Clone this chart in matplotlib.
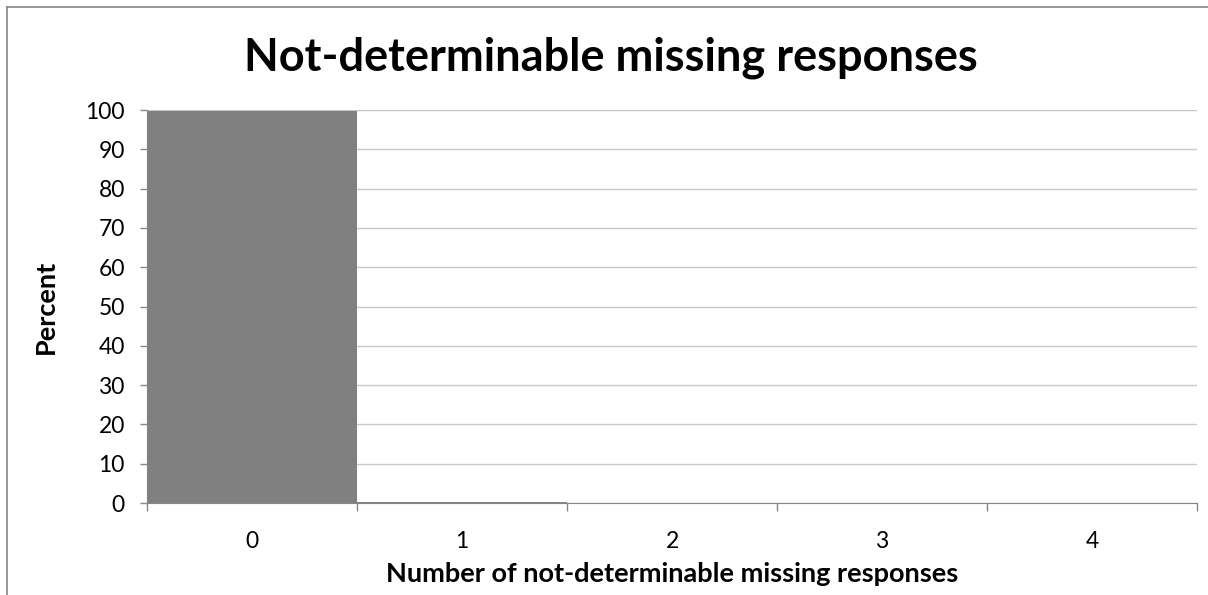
import matplotlib
matplotlib.use("Agg")
import matplotlib.pyplot as plt
from matplotlib.lines import Line2D

categories = ['0', '1', '2', '3', '4']
percent = [99.8, 0.2, 0.0, 0.0, 0.0]
y_ticks = [0, 10, 20, 30, 40, 50, 60, 70, 80, 90, 100]

plt.rcParams['font.family'] = ['Lato', 'DejaVu Sans']

fig = plt.figure(figsize=(12.08, 5.95), dpi=100)
ax = fig.add_axes([0.1217, 0.1546, 0.8692, 0.6605])

x = list(range(len(categories)))
ax.bar(x, percent, width=1.0, color='#808080', zorder=3)

ax.set_xlim(-0.5, len(categories) - 0.5)
ax.set_ylim(0, 100)
ax.set_yticks(y_ticks)
ax.set_yticklabels([str(v) for v in y_ticks], fontsize=16.5)
ax.grid(True, axis='y', color='#c8c8c8', linewidth=1, zorder=0)

# category labels centred, ticks on the boundaries
ax.set_xticks(x)
ax.set_xticklabels(categories, fontsize=16.5)
ax.tick_params(axis='x', length=0, pad=20)
ax.set_xticks([i - 0.5 for i in range(len(categories) + 1)], minor=True)
ax.tick_params(axis='x', which='minor', length=6, color='#868686', width=1)
ax.tick_params(axis='y', length=5, color='#868686', width=1, pad=11)

for s in ['top', 'right']:
    ax.spines[s].set_visible(False)
for s in ['left', 'bottom']:
    ax.spines[s].set_color('#868686')

ax.set_xlabel('Number of not-determinable missing responses', fontsize=19.5,
              fontweight='bold')
ax.xaxis.set_label_coords(0.5, -0.150)
ax.set_ylabel('Percent', fontsize=19.5, fontweight='bold')
ax.yaxis.set_label_coords(-0.0848, 0.5)
fig.text(0.5054, 0.8807, 'Not-determinable missing responses', fontsize=32.5,
         fontweight='bold', ha='center', va='baseline')

# chart frame (left and top edges)
fx, fy = 7 / 1208, 1 - 7 / 595
fig.add_artist(Line2D([fx, fx], [0, fy], transform=fig.transFigure,
                      color='#868686', linewidth=1.2))
fig.add_artist(Line2D([fx, 1], [fy, fy], transform=fig.transFigure,
                      color='#868686', linewidth=1.2))

fig.savefig('out.png', dpi=100)
